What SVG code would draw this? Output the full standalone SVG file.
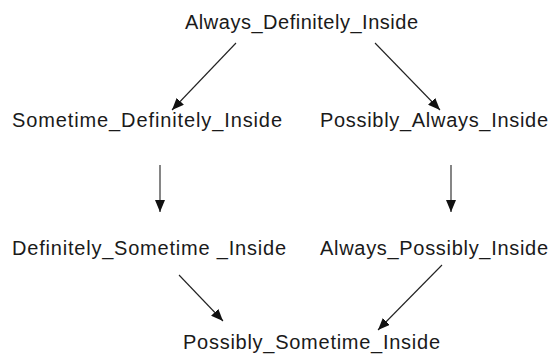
<svg xmlns="http://www.w3.org/2000/svg" width="552" height="356" viewBox="0 0 552 356">
<style>
text{font-family:"Liberation Sans",Arial,sans-serif;font-size:20px;fill:#1a1a1a}
.c line{stroke:#222;stroke-width:1.1}
</style>
<defs>
<marker id="ah" viewBox="0 0 12 10" refX="12" refY="5" markerWidth="12" markerHeight="10" markerUnits="userSpaceOnUse" orient="auto">
<path d="M0,0 L12,5 L0,10 z" fill="#111"/>
</marker>
</defs>
<rect width="552" height="356" fill="#fff"/>
<g class="c" id="connectors">
<line x1="236" y1="43" x2="172" y2="110" marker-end="url(#ah)"/>
<line x1="375" y1="43" x2="440" y2="110" marker-end="url(#ah)"/>
<line x1="160" y1="165" x2="160" y2="212" marker-end="url(#ah)"/>
<line x1="451" y1="165" x2="451" y2="212" marker-end="url(#ah)"/>
<line x1="179" y1="275" x2="223" y2="321" marker-end="url(#ah)"/>
<line x1="442" y1="265" x2="378" y2="330" marker-end="url(#ah)"/>
</g>
<g id="n1"><text x="185" y="29" textLength="233" lengthAdjust="spacing">Always_Definitely_Inside</text></g>
<g id="n2"><text x="12" y="127" textLength="270" lengthAdjust="spacing">Sometime_Definitely_Inside</text></g>
<g id="n3"><text x="320" y="127" textLength="228" lengthAdjust="spacing">Possibly_Always_Inside</text></g>
<g id="n4"><text x="12" y="255" textLength="274" lengthAdjust="spacing">Definitely_Sometime _Inside</text></g>
<g id="n5"><text x="320" y="255" textLength="228" lengthAdjust="spacing">Always_Possibly_Inside</text></g>
<g id="n6"><text x="183" y="349" textLength="257" lengthAdjust="spacing">Possibly_Sometime_Inside</text></g>
</svg>
